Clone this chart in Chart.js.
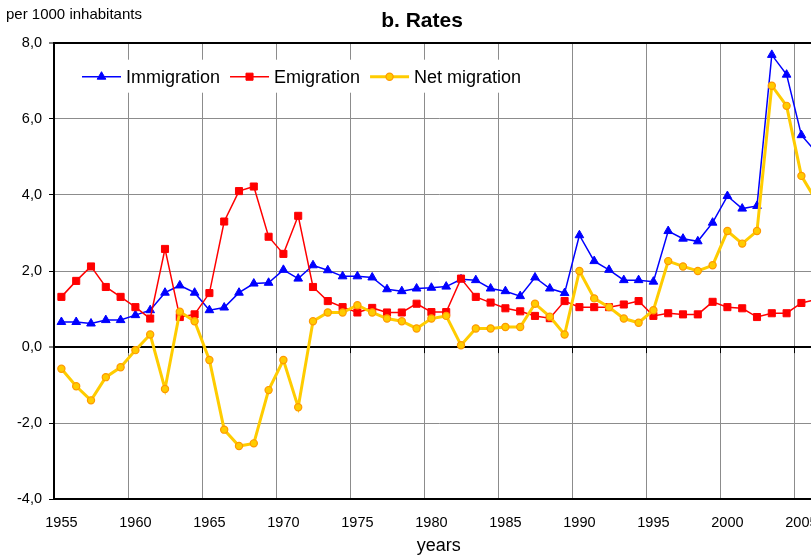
<!DOCTYPE html>
<html>
<head>
<meta charset="utf-8">
<script src="https://cdn.jsdelivr.net/npm/chart.js@4/dist/chart.umd.min.js"></script>
<style>
html,body{margin:0;padding:0;overflow:hidden;background:#fff}
#wrap{width:844px;height:558px}
</style>
</head>
<body>
<div id="wrap"><canvas id="c" width="844" height="558"></canvas></div>
<script>
const years = ['1955','1956','1957','1958','1959','1960','1961','1962','1963','1964',
  '1965','1966','1967','1968','1969','1970','1971','1972','1973','1974',
  '1975','1976','1977','1978','1979','1980','1981','1982','1983','1984',
  '1985','1986','1987','1988','1989','1990','1991','1992','1993','1994',
  '1995','1996','1997','1998','1999','2000','2001','2002','2003','2004',
  '2005','2006'];

const immigration = [0.66,0.66,0.62,0.71,0.71,0.84,0.97,1.43,1.62,1.43,
  0.97,1.04,1.43,1.67,1.69,2.03,1.80,2.15,2.02,1.86,
  1.86,1.83,1.52,1.47,1.54,1.56,1.59,1.78,1.76,1.54,
  1.47,1.34,1.83,1.54,1.42,2.94,2.26,2.03,1.76,1.76,
  1.72,3.05,2.85,2.78,3.27,3.97,3.64,3.71,7.68,7.16,
  5.57,5.12];

const emigration = [1.32,1.74,2.12,1.58,1.32,1.05,0.75,2.58,0.79,0.86,
  1.42,3.30,4.10,4.22,2.90,2.45,3.45,1.58,1.21,1.05,
  0.91,1.03,0.91,0.91,1.14,0.92,0.92,1.80,1.32,1.17,
  1.02,0.94,0.82,0.76,1.21,1.05,1.05,1.05,1.12,1.21,
  0.82,0.89,0.86,0.86,1.19,1.05,1.02,0.79,0.89,0.89,
  1.16,1.25];

const netMigration = [-0.57,-1.03,-1.40,-0.79,-0.53,-0.08,0.33,-1.10,0.93,0.68,
  -0.34,-2.17,-2.60,-2.53,-1.13,-0.34,-1.58,0.68,0.91,0.91,
  1.10,0.91,0.75,0.68,0.49,0.75,0.82,0.05,0.49,0.49,
  0.53,0.53,1.14,0.80,0.33,2.00,1.28,1.05,0.75,0.64,
  0.97,2.26,2.12,2.00,2.15,3.05,2.72,3.05,6.87,6.34,
  4.50,3.85];

const yMin = -4, yMax = 8, yStep = 2;
const seriesNames = ['Immigration', 'Emigration', 'Net migration'];
const chartTitle = 'b. Rates';
const unitLabel = 'per 1000 inhabitants';
const xTitle = 'years';

const FONT = '"Liberation Sans", Arial, Helvetica, sans-serif';
Chart.defaults.font.family = FONT;
Chart.defaults.color = '#000';

function drawMarker(ctx, style, radius, x, y) {
  ctx.beginPath();
  if (style === 'triangle') {
    let rad = 0;
    const step = Math.PI * 2 / 3;
    ctx.moveTo(x + Math.sin(rad) * radius, y - Math.cos(rad) * radius);
    rad += step;
    ctx.lineTo(x + Math.sin(rad) * radius, y - Math.cos(rad) * radius);
    rad += step;
    ctx.lineTo(x + Math.sin(rad) * radius, y - Math.cos(rad) * radius);
    ctx.closePath();
  } else if (style === 'rect') {
    const s = Math.SQRT1_2 * radius;
    ctx.rect(x - s, y - s, 2 * s, 2 * s);
  } else {
    ctx.arc(x, y, radius, 0, Math.PI * 2);
    ctx.closePath();
  }
  ctx.fill();
  ctx.stroke();
}

const decor = {
  id: 'decor',
  afterDatasetsDraw(chart) {
    const {ctx, chartArea} = chart;
    const xs = chart.scales.x, ys = chart.scales.y;
    ctx.save();
    // tick marks on the zero line at every 5th category boundary
    const y0 = ys.getPixelForValue(0);
    ctx.strokeStyle = '#000';
    ctx.lineWidth = 1;
    for (let i = 0; i <= years.length; i += 5) {
      const px = Math.round(xs.getPixelForValue(i - 0.5)) + 0.5;
      if (px < chartArea.left + 2) continue;
      ctx.beginPath();
      ctx.moveTo(px, y0);
      ctx.lineTo(px, y0 + 6);
      ctx.stroke();
    }
    // legend inside the plot
    const items = chart.data.datasets.map(ds => ({
      label: ds.label, color: ds.borderColor, lw: ds.borderWidth,
      style: ds.pointStyle, r: ds.pointRadius, fill: ds.pointBackgroundColor,
      stroke: ds.pointBorderColor, bw: ds.pointBorderWidth
    }));
    ctx.font = '18px ' + FONT;
    const lineLen = 39, gap1 = 5, gap2 = 10;
    let xx = chartArea.left + 28;
    const yy = chartArea.top + 34;
    let total = 0;
    items.forEach((it, k) => {
      total += lineLen + gap1 + ctx.measureText(it.label).width + (k < items.length - 1 ? gap2 : 0);
    });
    ctx.fillStyle = '#fff';
    ctx.fillRect(xx - 4, yy - 17, total + 10, 33);
    items.forEach(it => {
      ctx.strokeStyle = it.color;
      ctx.lineWidth = it.lw;
      ctx.beginPath();
      ctx.moveTo(xx, yy);
      ctx.lineTo(xx + lineLen, yy);
      ctx.stroke();
      ctx.fillStyle = it.fill;
      ctx.strokeStyle = it.stroke;
      ctx.lineWidth = it.bw;
      drawMarker(ctx, it.style, it.r, xx + lineLen / 2, yy);
      ctx.fillStyle = '#000';
      ctx.textAlign = 'left';
      ctx.textBaseline = 'middle';
      ctx.fillText(it.label, xx + lineLen + gap1, yy + 1);
      xx += lineLen + gap1 + ctx.measureText(it.label).width + gap2;
    });
    ctx.restore();
  },
  afterDraw(chart) {
    const ctx = chart.ctx;
    ctx.save();
    ctx.fillStyle = '#000';
    ctx.font = 'bold 21px ' + FONT;
    ctx.textAlign = 'center';
    ctx.textBaseline = 'middle';
    ctx.fillText(chartTitle, chart.width / 2, 21);
    ctx.font = '15px ' + FONT;
    ctx.textAlign = 'left';
    ctx.fillText(unitLabel, 6, 15);
    ctx.restore();
  }
};

const isBorderVal = v => v === 0 || v === yMax;

new Chart(document.getElementById('c'), {
  type: 'line',
  data: {
    labels: years,
    datasets: [
      {
        label: seriesNames[0], data: immigration,
        borderColor: '#0000FF', backgroundColor: '#0000FF', borderWidth: 1.5,
        pointStyle: 'triangle', pointRadius: 5, pointBorderWidth: 1,
        pointBackgroundColor: '#0000FF', pointBorderColor: '#0000FF',
        tension: 0, order: 2
      },
      {
        label: seriesNames[1], data: emigration,
        borderColor: '#FF0000', backgroundColor: '#FF0000', borderWidth: 1.5,
        pointStyle: 'rect', pointRadius: 5, pointBorderWidth: 1,
        pointBackgroundColor: '#FF0000', pointBorderColor: '#FF0000',
        tension: 0, order: 1
      },
      {
        label: seriesNames[2], data: netMigration,
        borderColor: '#FFCC00', backgroundColor: '#FFCC00', borderWidth: 3,
        pointStyle: 'circle', pointRadius: 3.6, pointBorderWidth: 1.2,
        pointBackgroundColor: '#FFCC00', pointBorderColor: '#FF9900',
        tension: 0, order: 0
      }
    ]
  },
  options: {
    responsive: false,
    animation: false,
    devicePixelRatio: 1,
    layout: { padding: { top: 42.7, right: 20.4, left: 0, bottom: 0 } },
    plugins: {
      legend: { display: false },
      title: { display: false },
      tooltip: { enabled: false }
    },
    scales: {
      x: {
        type: 'category',
        offset: true,
        grid: {
          offset: true,
          drawTicks: false,
          color: c => (c.index !== undefined && c.index % 5 === 0) ? '#8c8c8c' : 'rgba(0,0,0,0)',
          lineWidth: 1
        },
        border: { color: '#000', width: 2 },
        ticks: {
          autoSkip: false, maxRotation: 0, minRotation: 0,
          padding: 14.5, font: { size: 14.5 }, color: '#000',
          callback: function (v) {
            const l = this.getLabelForValue(v);
            return (+l) % 5 === 0 ? l : '';
          }
        },
        title: { display: true, text: xTitle, font: { size: 18 }, color: '#000', padding: { top: 0, bottom: 1 } },
        afterFit: s => { s.height = 58.7; }
      },
      y: {
        min: yMin, max: yMax,
        ticks: {
          stepSize: yStep, padding: 7, font: { size: 14.5 }, color: '#000',
          callback: v => v.toFixed(1).replace('.', ',')
        },
        grid: {
          color: c => (c.tick && isBorderVal(c.tick.value)) ? '#000' : '#8c8c8c',
          lineWidth: c => (c.tick && isBorderVal(c.tick.value)) ? 2 : 1,
          tickColor: '#000', tickLength: 5, tickWidth: 1
        },
        border: { color: '#000', width: 2 },
        afterFit: s => { s.width = 54; }
      }
    }
  },
  plugins: [decor]
});
</script>
</body>
</html>
